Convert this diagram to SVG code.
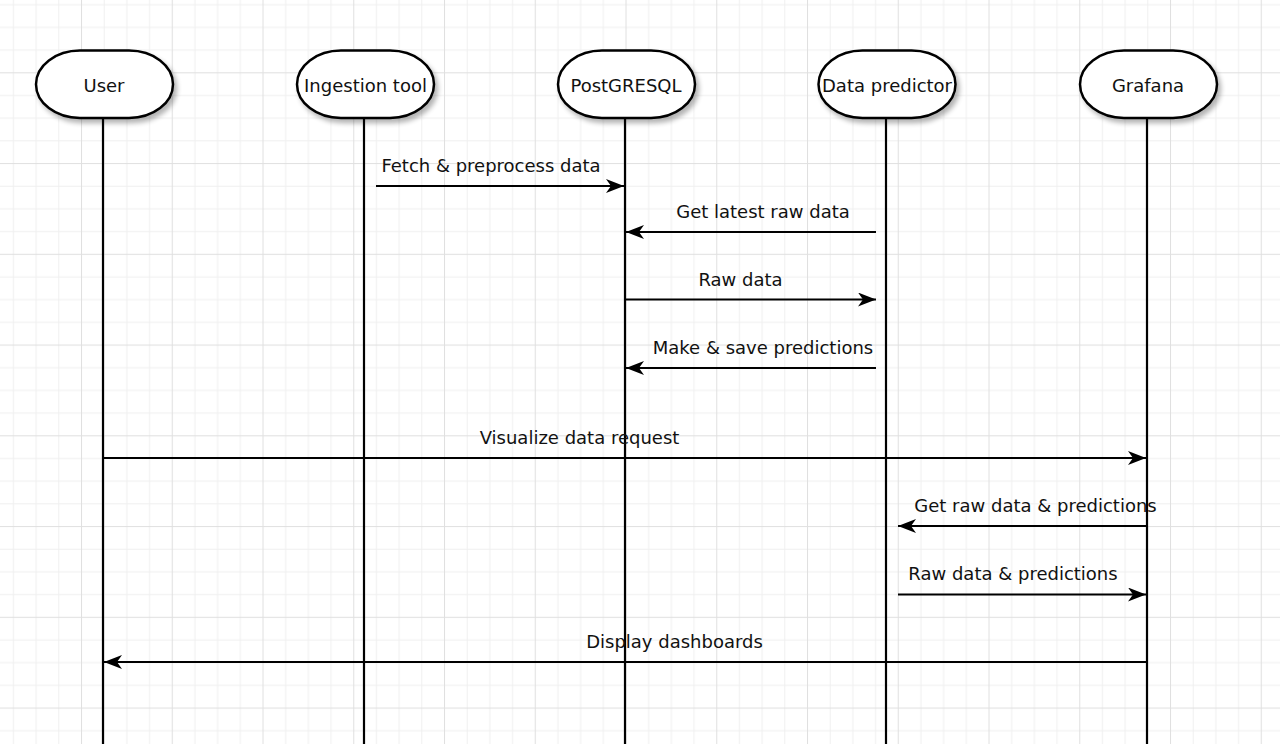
<svg xmlns="http://www.w3.org/2000/svg" width="1280" height="744" viewBox="0 0 1280 744">
  <style>
    .node rect { fill: #ffffff; stroke: #000000; stroke-width: 2.5; }
    .node text, .label { font-family: "DejaVu Sans", Verdana, sans-serif; font-size: 18px; fill: #111111; text-anchor: middle; }
    .lifeline { stroke: #000000; stroke-width: 2.2; fill: none; }
    .msg { stroke: #000000; stroke-width: 2; fill: none; marker-end: url(#arrow); }
  </style>
  <defs>
    <pattern id="grid" patternUnits="userSpaceOnUse" x="81" y="72.3" width="90.75" height="90.75">
      <rect x="0" y="0" width="90.75" height="90.75" fill="#ffffff"/>
      <rect x="22.69" y="0" width="1" height="90.75" fill="#f0f0f0"/>
      <rect x="45.37" y="0" width="1" height="90.75" fill="#f0f0f0"/>
      <rect x="68.06" y="0" width="1" height="90.75" fill="#f0f0f0"/>
      <rect x="0" y="22.69" width="90.75" height="1" fill="#f0f0f0"/>
      <rect x="0" y="45.37" width="90.75" height="1" fill="#f0f0f0"/>
      <rect x="0" y="68.06" width="90.75" height="1" fill="#f0f0f0"/>
      <rect x="0" y="0" width="1" height="90.75" fill="#e0e0e0"/>
      <rect x="0" y="0" width="90.75" height="1" fill="#e0e0e0"/>
    </pattern>
    <filter id="shadow" x="-20%" y="-20%" width="150%" height="160%">
      <feGaussianBlur in="SourceAlpha" stdDeviation="2.5"/>
      <feOffset dx="3" dy="4" result="b"/>
      <feComponentTransfer><feFuncA type="linear" slope="0.3"/></feComponentTransfer>
      <feMerge><feMergeNode/><feMergeNode in="SourceGraphic"/></feMerge>
    </filter>
    <marker id="arrow" viewBox="0 0 18 14" refX="18" refY="7" markerWidth="18" markerHeight="14" markerUnits="userSpaceOnUse" orient="auto">
      <path d="M0,0 L18,7 L0,14 L5,7 Z" fill="#000000"/>
    </marker>
  </defs>
  <rect x="0" y="0" width="1280" height="744" fill="url(#grid)"/>

  <g id="lifelines">
    <line class="lifeline" x1="103" y1="118" x2="103" y2="744"/>
    <line class="lifeline" x1="364" y1="118" x2="364" y2="744"/>
    <line class="lifeline" x1="625" y1="118" x2="625" y2="744"/>
    <line class="lifeline" x1="886" y1="118" x2="886" y2="744"/>
    <line class="lifeline" x1="1147" y1="118" x2="1147" y2="744"/>
  </g>

  <g id="node-user" class="node">
    <rect x="36" y="50.5" width="137" height="67.5" rx="44" ry="34" filter="url(#shadow)"/>
    <text x="104" y="92">User</text>
  </g>
  <g id="node-ingestion" class="node">
    <rect x="297" y="50.5" width="137" height="67.5" rx="44" ry="34" filter="url(#shadow)"/>
    <text x="365.5" y="92">Ingestion tool</text>
  </g>
  <g id="node-postgresql" class="node">
    <rect x="558" y="50.5" width="137" height="67.5" rx="44" ry="34" filter="url(#shadow)"/>
    <text x="626" y="92">PostGRESQL</text>
  </g>
  <g id="node-predictor" class="node">
    <rect x="818.5" y="50.5" width="137" height="67.5" rx="44" ry="34" filter="url(#shadow)"/>
    <text x="887" y="92">Data predictor</text>
  </g>
  <g id="node-grafana" class="node">
    <rect x="1080" y="50.5" width="137" height="67.5" rx="44" ry="34" filter="url(#shadow)"/>
    <text x="1148" y="92">Grafana</text>
  </g>

  <g id="connectors">
    <line class="msg" x1="376" y1="186" x2="624" y2="186"/>
    <line class="msg" x1="876" y1="232" x2="626" y2="232"/>
    <line class="msg" x1="625" y1="299.5" x2="876" y2="299.5"/>
    <line class="msg" x1="876" y1="368" x2="626" y2="368"/>
    <line class="msg" x1="103" y1="458" x2="1146" y2="458"/>
    <line class="msg" x1="1147" y1="526" x2="898" y2="526"/>
    <line class="msg" x1="898" y1="594.5" x2="1146" y2="594.5"/>
    <line class="msg" x1="1147" y1="662" x2="104" y2="662"/>
    <text class="label" x="491" y="172">Fetch &amp; preprocess data</text>
    <text class="label" x="763" y="218">Get latest raw data</text>
    <text class="label" x="740.5" y="285.5">Raw data</text>
    <text class="label" x="763" y="353.5">Make &amp; save predictions</text>
    <text class="label" x="579.5" y="444">Visualize data request</text>
    <text class="label" x="1035.5" y="512">Get raw data &amp; predictions</text>
    <text class="label" x="1013" y="580">Raw data &amp; predictions</text>
    <text class="label" x="674.5" y="648">Display dashboards</text>
  </g>
</svg>
